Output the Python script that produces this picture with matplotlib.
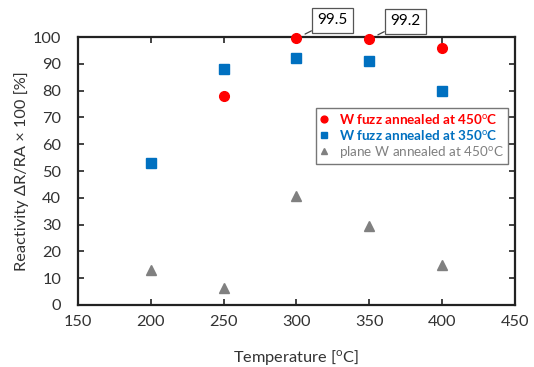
import matplotlib
matplotlib.use("Agg")
import matplotlib.pyplot as plt

plt.rcParams['font.family'] = ['Lato', 'DejaVu Sans']
plt.rcParams['mathtext.fontset'] = 'custom'
plt.rcParams['mathtext.rm'] = 'Lato'

temps_red = [250, 300, 350, 400]
vals_red = [78, 99.5, 99.2, 96]
temps_blue = [200, 250, 300, 350, 400]
vals_blue = [53, 88, 92, 91, 80]
temps_gray = [200, 250, 300, 350, 400]
vals_gray = [13, 6.5, 40.5, 29.5, 15]
labels = ["W fuzz annealed at 450$^{\\rm o}$C",
          "W fuzz annealed at 350$^{\\rm o}$C",
          "plane W annealed at 450$^{\\rm o}$C"]
annot_x = [300, 350]
annot_y = [99.5, 99.2]
annot_text = ["99.5", "99.2"]

fig = plt.figure(figsize=(5.34, 3.67), dpi=100)
ax = fig.add_axes([0.146, 0.169, 0.818, 0.730])

ax.plot(temps_red, vals_red, 'o', color='#ff0000', ms=7, label=labels[0], clip_on=False, zorder=5)
ax.plot(temps_blue, vals_blue, 's', color='#0070c0', ms=6.5, label=labels[1], clip_on=False, zorder=4)
ax.plot(temps_gray, vals_gray, '^', color='#808080', ms=7, label=labels[2], clip_on=False, zorder=4)

ax.set_xlim(150, 450)
ax.set_ylim(0, 100)
ax.set_xticks(range(150, 451, 50))
ax.set_yticks(range(0, 101, 10))
ax.tick_params(axis='y', pad=12)
ax.tick_params(axis='x', pad=7)
ax.tick_params(direction='in', top=True, right=True, labelsize=11.8, length=4, width=1.2,
               colors='#222222', labelcolor='#333333')
for s in ax.spines.values():
    s.set_linewidth(1.6)
    s.set_color('#222222')

ax.set_xlabel("Temperature [$^{\\rm o}$C]", fontsize=11.8, labelpad=14, color='#333333')
ax.set_ylabel("Reactivity ΔR/RA × 100 [%]", fontsize=11.8, labelpad=3, color='#333333')

for x, y, t in zip(annot_x, annot_y, annot_text):
    ax.annotate(t, xy=(x, y), xytext=(36, 18), textcoords='offset pixels',
                ha='center', va='center', fontsize=11,
                bbox=dict(boxstyle='square,pad=0.35', fc='white', ec='#555555', lw=0.9),
                arrowprops=dict(arrowstyle='-', color='#444444', lw=0.9, shrinkA=0, shrinkB=7),
                annotation_clip=False)

leg = ax.legend(loc='upper left', bbox_to_anchor=(0.53, 0.76), fontsize=9.7,
                frameon=True, fancybox=False, edgecolor='#555555', handlelength=0.6,
                handletextpad=0.8, borderpad=0.3, labelspacing=0.15, markerscale=0.7)
leg.get_frame().set_linewidth(1.0)
cols = ['#ff0000', '#0070c0', '#808080']
weights = ['bold', 'bold', 'normal']
for txt, c, w in zip(leg.get_texts(), cols, weights):
    txt.set_color(c)
    txt.set_fontweight(w)

fig.savefig("out.png", dpi=100)
